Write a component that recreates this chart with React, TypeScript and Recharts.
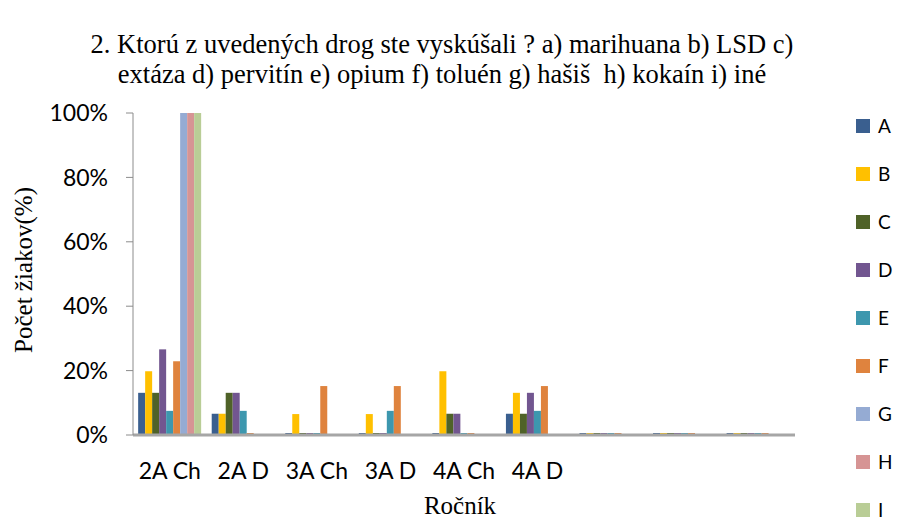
import { BarChart, Bar, XAxis, YAxis, Label } from 'recharts';

const categories = ['2A Ch', '2A D', '3A Ch', '3A D', '4A Ch', '4A D', '', '', ''];
const seriesNames = ['A', 'B', 'C', 'D', 'E', 'F', 'G', 'H', 'I'];
const seriesColors = ['#3A5F8F', '#FFC000', '#4F6228', '#725690', '#3D97AE', '#DF833E', '#95ABD3', '#D69494', '#B9CD96'];

// percent of pupils per class
const valuesA = [13.1, 6.6, 0, 0, 0, 6.6, 0, 0, 0];
const valuesB = [19.8, 6.6, 6.5, 6.5, 19.8, 13.1, 0, 0, 0];
const valuesC = [13.1, 13.1, 0, 0, 6.6, 6.6, 0, 0, 0];
const valuesD = [26.6, 13.1, 0, 0, 6.6, 13.1, 0, 0, 0];
const valuesE = [7.5, 7.5, 0, 7.5, 0, 7.5, 0, 0, 0];
const valuesF = [22.9, 0, 15.2, 15.2, 0, 15.2, 0, 0, 0];
const valuesG = [100, null, null, null, null, null, null, null, null];
const valuesH = [100, null, null, null, null, null, null, null, null];
const valuesI = [100, null, null, null, null, null, null, null, null];

const yTicks = [0, 20, 40, 60, 80, 100];

const titleLines = [
  '2. Ktorú z uvedených drog ste vyskúšali ? a) marihuana b) LSD c)',
  'extáza d) pervitín e) opium f) toluén g) hašiš  h) kokaín i) iné',
];

const allValues = [valuesA, valuesB, valuesC, valuesD, valuesE, valuesF, valuesG, valuesH, valuesI];

const data = categories.map((c, i) => {
  const row: any = { name: c };
  seriesNames.forEach((s, j) => { row[s] = allValues[j][i]; });
  return row;
});

const serif = '"Liberation Serif", "Times New Roman", serif';
const sans = 'Lato, "Open Sans", sans-serif';

export default function App() {
  return (
    <div style={{ position: 'absolute', left: 0, top: 0, width: 898, height: 522, background: '#fff' }}>
      <div style={{ position: 'absolute', left: 0, width: 884, top: 29, fontFamily: serif, fontSize: 26.5, lineHeight: '30px', textAlign: 'center', color: '#000' }}>
        {titleLines.map((t) => <div key={t} style={{ whiteSpace: 'pre' }}>{t}</div>)}
      </div>
      <div style={{ position: 'absolute', left: 0, top: 0 }}>
        <BarChart width={898} height={522} data={data} barCategoryGap="7%" barGap={0}
          margin={{ top: 113, right: 103, bottom: 0, left: 33 }}>
          <XAxis dataKey="name" height={87} tickLine={false} axisLine={{ stroke: '#A6A6A6', strokeWidth: 3 }}
            tick={{ fill: '#000', fontSize: 23, fontFamily: sans }} tickMargin={22} interval={0}>
            <Label value="Ročník" position="insideBottom" offset={8} dx={-4}
              style={{ fontFamily: serif, fontSize: 25, fill: '#000' }} />
          </XAxis>
          <YAxis width={100} domain={[0, 100]} ticks={yTicks} tickFormatter={(v) => `${v}%`}
            axisLine={{ stroke: '#8C8C8C' }} tickLine={{ stroke: '#8C8C8C' }} tickSize={7} tickMargin={18}
            tick={{ fill: '#000', fontSize: 23, fontFamily: sans }}>
            <Label value="Počet žiakov(%)" angle={-90} position="insideLeft" offset={-10} dy={-4}
              style={{ fontFamily: serif, fontSize: 25, fill: '#000', textAnchor: 'middle' }} />
          </YAxis>
          {seriesNames.map((s, j) => (
            <Bar key={s} dataKey={s} fill={seriesColors[j]} isAnimationActive={false}
              minPointSize={j < 6 ? 2 : 0} />
          ))}
        </BarChart>
      </div>
      <div style={{ position: 'absolute', left: 856, top: 114 }}>
        {seriesNames.map((s, j) => (
          <div key={s} style={{ height: 48, display: 'flex', alignItems: 'flex-start' }}>
            <div style={{ width: 14, height: 14, background: seriesColors[j], marginTop: 5 }} />
            <span style={{ marginLeft: 8, fontFamily: sans, fontSize: 19, lineHeight: '24px' }}>{s}</span>
          </div>
        ))}
      </div>
    </div>
  );
}
